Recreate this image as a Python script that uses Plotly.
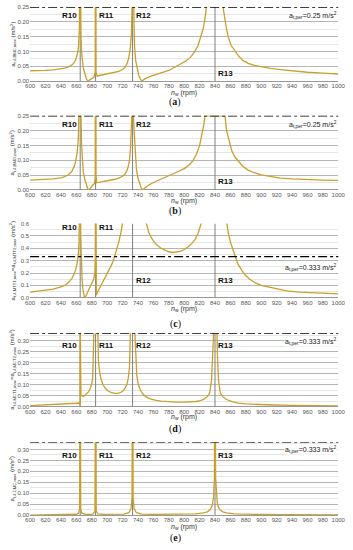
import plotly.graph_objects as go

# ---------------- data ----------------
res_rpm = [665, 685, 733, 840]
res_labels = ["R10", "R11", "R12", "R13"]

rpm_a = [600, 610, 620, 630, 640, 645, 650, 655, 658, 660, 662, 663, 664, 664.6, 665, 665.4, 666, 667, 669, 671,
         673, 675, 677, 680, 683, 684.5, 685, 685.5, 687, 690, 695, 700, 705, 710, 715, 720, 723, 726, 728, 730,
         731.5, 732.8, 733.5, 734.2, 735.5, 737, 739, 741, 743, 745, 748, 752, 758, 765, 772, 780, 787, 795, 802,
         808, 813, 818, 822, 825, 828, 830, 833, 836, 840, 845, 848, 851, 854, 857, 861, 866, 870, 876, 883, 891,
         900, 912, 925, 940, 960, 980, 1000]
acc_a = [0.035, 0.035, 0.036, 0.038, 0.041, 0.044, 0.048, 0.056, 0.066, 0.078, 0.10, 0.125, 0.18, 0.35, 1.2, 0.4,
         0.15, 0.09, 0.045, 0.022, 0.008, 0.0, 0.004, 0.009, 0.014, 0.03, 1.2, 0.03, 0.017, 0.019, 0.022, 0.024,
         0.026, 0.029, 0.033, 0.039, 0.046, 0.06, 0.078, 0.11, 0.16, 0.3, 1.2, 0.3, 0.12, 0.07, 0.04, 0.02, 0.008,
         0.0, 0.006, 0.012, 0.018, 0.024, 0.029, 0.036, 0.046, 0.057, 0.068, 0.08, 0.097, 0.12, 0.15, 0.18, 0.23,
         0.27, 0.33, 0.42, 0.6, 0.45, 0.33, 0.24, 0.19, 0.15, 0.12, 0.1, 0.087, 0.07, 0.06, 0.053, 0.048, 0.043,
         0.039, 0.035, 0.03, 0.027, 0.024]

rpm_b = [600, 610, 620, 630, 640, 645, 650, 654, 657, 659, 661, 662.5, 663.3, 664, 665, 666, 666.8, 667.8, 669,
         671, 673, 675, 676.5, 678, 681, 683.5, 684.5, 685, 685.5, 686.5, 690, 695, 700, 705, 710, 715, 720, 723,
         725.5, 727.5, 729, 730.3, 731.3, 732, 733, 734, 735, 736.5, 738, 740, 742, 744, 746, 749, 753, 760, 768,
         776, 785, 793, 800, 806, 811, 816, 820, 823, 825.5, 827, 830, 835, 840, 845, 850, 853, 855, 858, 862, 866,
         870, 876, 883, 891, 900, 912, 925, 940, 960, 980, 1000]
acc_b = [0.033, 0.034, 0.035, 0.037, 0.041, 0.045, 0.052, 0.062, 0.077, 0.095, 0.125, 0.17, 0.25, 0.25, 0.25,
         0.25, 0.15, 0.09, 0.06, 0.035, 0.015, 0.003, 0.0, 0.006, 0.015, 0.022, 0.04, 1.2, 0.05, 0.024, 0.027,
         0.029, 0.031, 0.033, 0.036, 0.04, 0.046, 0.053, 0.064, 0.08, 0.1, 0.14, 0.2, 0.25, 0.25, 0.25, 0.2, 0.11,
         0.07, 0.04, 0.02, 0.008, 0.0, 0.007, 0.015, 0.025, 0.034, 0.042, 0.052, 0.063, 0.072, 0.083, 0.097, 0.12,
         0.15, 0.185, 0.22, 0.25, 0.25, 0.25, 0.25, 0.25, 0.25, 0.25, 0.2, 0.165, 0.13, 0.11, 0.097, 0.08, 0.067,
         0.058, 0.051, 0.045, 0.04, 0.037, 0.034, 0.033, 0.032]

rpm_c = [600, 610, 620, 630, 640, 645, 650, 654, 657, 659, 661, 662.5, 663.5, 664.3, 665, 665.7, 666.5, 667.5,
         668.5, 669.5, 670.5, 672, 674, 677, 680, 682.5, 684, 684.6, 685, 685.4, 686, 688, 690, 693, 696, 700, 703,
         706, 709, 712, 715, 718, 721, 724, 735, 745, 748, 751, 754, 757, 760, 765, 770, 775, 780, 785, 790, 795,
         800, 805, 810, 814, 818, 821, 823, 826, 840, 852, 855, 858, 861, 864, 867, 870, 875, 880, 885, 891, 900,
         910, 920, 933, 950, 970, 985, 1000]
acc_c = [0.045, 0.052, 0.06, 0.07, 0.087, 0.1, 0.125, 0.155, 0.19, 0.225, 0.28, 0.35, 0.45, 0.62, 1.5, 0.5, 0.25,
         0.14, 0.07, 0.03, 0.005, 0.01, 0.035, 0.07, 0.11, 0.15, 0.2, 0.3, 1.5, 0.25, 0.02, 0.05, 0.075, 0.11,
         0.145, 0.19, 0.23, 0.27, 0.32, 0.38, 0.45, 0.53, 0.62, 0.75, 1.2, 0.8, 0.68, 0.6, 0.53, 0.49, 0.46, 0.425,
         0.4, 0.385, 0.372, 0.366, 0.368, 0.375, 0.39, 0.41, 0.44, 0.47, 0.52, 0.57, 0.62, 0.72, 1.5, 0.72, 0.6,
         0.5, 0.43, 0.37, 0.32, 0.27, 0.22, 0.18, 0.15, 0.125, 0.1, 0.085, 0.07, 0.056, 0.046, 0.038, 0.034, 0.031]

rpm_d = [600, 615, 630, 645, 655, 660, 663, 664.3, 664.8, 665, 665.3, 666, 667.5, 669, 671, 673.5, 676, 678,
         679.8, 681.2, 682.5, 685, 688, 688.8, 690.2, 692, 694.5, 697.5, 701, 705, 710, 714, 718, 721, 723.5,
         725.5, 727.5, 729, 730, 733, 736.3, 737.3, 738.5, 740.5, 743, 746, 750, 755, 762, 770, 780, 790, 800,
         808, 815, 821, 826, 830, 833, 835.5, 837, 838, 840, 842, 843, 844.5, 847, 850, 855, 862, 870, 880, 895,
         915, 940, 970, 1000]
acc_d = [0.004, 0.006, 0.008, 0.011, 0.013, 0.015, 0.016, 0.012, 0.0, 1.0, 0.3, 0.052, 0.047, 0.046, 0.05, 0.057,
         0.068, 0.082, 0.1, 0.13, 0.3, 0.8, 0.3, 0.2, 0.16, 0.125, 0.1, 0.083, 0.072, 0.064, 0.06, 0.06, 0.065,
         0.073, 0.085, 0.1, 0.13, 0.18, 0.31, 0.9, 0.31, 0.2, 0.14, 0.1, 0.075, 0.058, 0.045, 0.036, 0.029, 0.025,
         0.021, 0.02, 0.02, 0.021, 0.023, 0.027, 0.034, 0.045, 0.06, 0.12, 0.25, 0.32, 0.9, 0.32, 0.25, 0.12, 0.06,
         0.045, 0.032, 0.022, 0.016, 0.012, 0.009, 0.007, 0.005, 0.004, 0.003]

rpm_e = [600, 630, 650, 660, 663, 664.3, 665, 665.7, 667, 672, 678, 682, 684.2, 685, 685.8, 688, 695, 710, 722,
         728, 731, 732.3, 733, 733.7, 735, 738, 745, 760, 780, 800, 815, 825, 830, 833, 835.5, 837, 838.2, 839.2,
         840, 840.8, 841.8, 843, 844.5, 847, 850, 855, 865, 880, 900, 930, 960, 1000]
acc_e = [0.001, 0.002, 0.003, 0.005, 0.01, 0.03, 0.9, 0.03, 0.01, 0.004, 0.004, 0.007, 0.02, 0.9, 0.02, 0.007,
         0.004, 0.004, 0.006, 0.012, 0.03, 0.08, 0.9, 0.08, 0.03, 0.012, 0.006, 0.004, 0.004, 0.005, 0.007, 0.011,
         0.016, 0.023, 0.037, 0.055, 0.09, 0.17, 0.9, 0.17, 0.09, 0.055, 0.037, 0.023, 0.016, 0.011, 0.007, 0.005,
         0.004, 0.003, 0.002, 0.002]

x_ticks = [600, 620, 640, 660, 680, 700, 720, 740, 760, 780, 800, 820, 840, 860, 880, 900, 920, 940, 960, 980, 1000]
thresholds = [0.25, 0.25, 0.333, 0.333, 0.333]
threshold_text = ["0.25", "0.25", "0.333", "0.333", "0.333"]
y_tops = [0.25, 0.25, 0.6, 0.333, 0.333]
y_steps = [0.05, 0.05, 0.1, 0.05, 0.05]
y_fmt = [".2f", ".2f", ".1f", ".2f", ".2f"]
y_titles = [
    "a<sub>t,4,BMC,max</sub> (m/s<sup>2</sup>)",
    "a<sub>t,4,BMO,max</sub> (m/s<sup>2</sup>)",
    "a<sub>t,4,MTT1,max</sub>=a<sub>t,4,MTT2,max</sub> (m/s<sup>2</sup>)",
    "a<sub>t,4,MCT1,max</sub>=a<sub>t,4,MCT2,max</sub> (m/s<sup>2</sup>)",
    "a<sub>t,4,CMC,max</sub> (m/s<sup>2</sup>)",
]
panel_letters = ["a", "b", "c", "d", "e"]
rpms = [rpm_a, rpm_b, rpm_c, rpm_d, rpm_e]
accs = [acc_a, acc_b, acc_c, acc_d, acc_e]
label_y = [
    [0.22, 0.22, 0.22, 0.027],
    [0.22, 0.22, 0.22, 0.027],
    [0.57, 0.57, 0.136, 0.136],
    [0.276, 0.276, 0.276, 0.276],
    [0.273, 0.273, 0.273, 0.273],
]
thr_label_y = [0.22, 0.22, 0.245, 0.297, 0.30]

# ---------------- layout geometry (pixels) ----------------
W, H = 353, 550
X0, X1 = 26, 345
panel_px = [(4, 79), (114, 189), (223, 298), (334, 408), (444, 518)]
xtitle_px = [91, 200, 309, 419, 530]
letter_px = [100, 210, 325, 431, 541]

def py(p):
    return 1 - p / H

def px(p):
    return p / W

FONT = "Liberation Sans, Arial, sans-serif"
CURVE = "#C9A02C"

fig = go.Figure()
layout = dict(width=W, height=H, margin=dict(l=0, r=0, t=0, b=0),
              paper_bgcolor="white", plot_bgcolor="white", showlegend=False,
              font=dict(family=FONT, color="#222"))
shapes, annotations = [], []

for i in range(5):
    n = "" if i == 0 else str(i + 1)
    xa, ya = "x" + n, "y" + n
    top, bot = panel_px[i]
    # resonance marker lines (drawn as a trace beneath the curve)
    vx, vy = [], []
    for r in res_rpm:
        vx += [r, r, None]
        vy += [0, y_tops[i], None]
    fig.add_trace(go.Scatter(x=vx, y=vy, mode="lines", xaxis=xa, yaxis=ya,
                             line=dict(color="#808080", width=1), hoverinfo="skip"))
    fig.add_trace(go.Scatter(x=rpms[i], y=accs[i], mode="lines", xaxis=xa, yaxis=ya,
                             line=dict(color=CURVE, width=1.3), hoverinfo="skip"))
    layout["xaxis" + n] = dict(domain=[px(X0), px(X1)], range=[600, 1000], anchor=ya,
                               tickvals=x_ticks, ticks="", showgrid=False, zeroline=False,
                               showline=False, tickfont=dict(size=6, color="#555"))
    layout["yaxis" + n] = dict(domain=[py(bot), py(top)], range=[0, y_tops[i]], anchor=xa,
                               dtick=y_steps[i], tick0=0, tickformat=y_fmt[i], ticks="",
                               showgrid=True, gridcolor="#b5b5b5", gridwidth=0.8, zeroline=True,
                               zerolinecolor="#999", zerolinewidth=0.8,
                               showline=False, tickfont=dict(size=6, color="#555"),
                               minor=dict(dtick=y_steps[i] / 2, showgrid=True, gridcolor="#e6e6e6",
                                          gridwidth=0.6))
    shapes.append(dict(type="line", xref=xa + " domain", yref=ya, x0=0, x1=1,
                       y0=thresholds[i], y1=thresholds[i],
                       line=dict(color="black", width=1.4, dash="dashdot")))
    for k, (r, lab) in enumerate(zip(res_rpm, res_labels)):
        left = (k == 0)
        annotations.append(dict(xref=xa, yref=ya, x=r + (-1.5 if left else 1.5), y=label_y[i][k],
                                text="<b>%s</b>" % lab, showarrow=False,
                                xanchor="right" if left else "left", yanchor="middle",
                                font=dict(size=8, color="#111")))
    annotations.append(dict(xref=xa, yref=ya, x=999, y=thr_label_y[i],
                            text="a<sub>t,per</sub>=%s m/s<sup>2</sup>" % threshold_text[i],
                            showarrow=False, xanchor="right", yanchor="middle",
                            bgcolor="white", borderpad=0, font=dict(size=7, color="#222")))
    annotations.append(dict(xref="paper", yref="paper", x=px(185), y=py(xtitle_px[i]),
                            text="<i>n</i><sub>w</sub> (rpm)", showarrow=False,
                            xanchor="center", yanchor="middle", font=dict(size=7, color="#333")))
    annotations.append(dict(xref="paper", yref="paper", x=px(8), y=py((top + bot) / 2),
                            text=y_titles[i], textangle=-90, showarrow=False,
                            xanchor="center", yanchor="middle", font=dict(size=6, color="#333")))
    annotations.append(dict(xref="paper", yref="paper", x=px(176), y=py(letter_px[i]),
                            text="(<b>%s</b>)" % panel_letters[i], showarrow=False,
                            xanchor="center", yanchor="middle",
                            font=dict(family="Liberation Serif, Times New Roman, serif", size=10, color="#111")))

layout["shapes"] = shapes
layout["annotations"] = annotations
fig.update_layout(**layout)
fig.write_html("out.html", config={"displayModeBar": False},
               post_script="document.body.style.margin='0';document.body.style.overflow='hidden';")
